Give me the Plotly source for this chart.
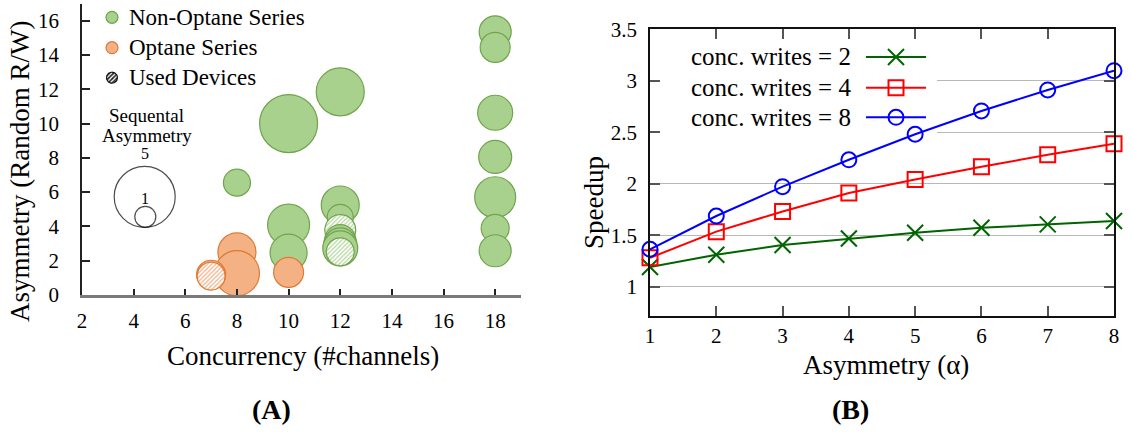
import math
import plotly.graph_objects as go

W, H = 1132, 432
FONT = "Liberation Serif"

# ---- Panel A: device survey -------------------------------------------
# (channels, random R/W asymmetry, sequential asymmetry, used device), listed in drawing order
nonopt_channels = [10, 12, 8, 18, 18, 18, 18, 18, 18, 18, 10, 10, 12, 12, 12, 12, 12, 12, 12]
nonopt_rand_asym = [10.0, 11.85, 6.55, 15.35, 14.44, 10.63, 8.05, 5.70, 3.89, 2.58,
                    4.08, 2.47, 5.25, 4.53, 3.79, 3.2, 2.95, 2.72, 2.52]
nonopt_seq_asym = [4.7, 3.7, 1.6, 2.1, 1.9, 2.4, 2.2, 3.0, 1.7, 2.1,
                   3.1, 2.6, 2.7, 1.5, 2.0, 2.0, 2.2, 2.4, 1.7]
nonopt_used = [False, False, False, False, False, False, False, False, False, False,
               False, False, False, False, True, False, False, False, True]

opt_channels = [10, 8, 8, 7, 7]
opt_rand_asym = [1.32, 2.51, 1.27, 1.18, 1.10]
opt_seq_asym = [1.9, 2.7, 3.4, 1.8, 1.7]
opt_used = [False, False, False, False, True]

size_legend_values = [5, 1]

# ---- Panel B: speedup vs asymmetry --------------------------------------
alpha = [1, 2, 3, 4, 5, 6, 7, 8]
speedup_w2 = [1.19, 1.31, 1.405, 1.467, 1.523, 1.572, 1.605, 1.637]
speedup_w4 = [1.28, 1.534, 1.73, 1.91, 2.04, 2.164, 2.28, 2.387]
speedup_w8 = [1.363, 1.686, 1.971, 2.232, 2.48, 2.706, 2.91, 3.097]
series_labels = ["conc. writes = 2", "conc. writes = 4", "conc. writes = 8"]

GREEN_FILL, GREEN_LINE, GREEN_HATCH = "#a9d18e", "#70a44c", "#b3d69c"
ORANGE_FILL, ORANGE_LINE, ORANGE_HATCH = "#f4b183", "#dd7b35", "#f3b088"

# plot areas in pixels
A_LEFT, A_RIGHT, A_TOP, A_BOTTOM = 82, 521, 3.5, 295
A_XRANGE, A_YRANGE = [2, 19], [0, 17]
B_LEFT, B_RIGHT, B_TOP, B_BOTTOM = 650, 1114, 29.2, 316
B_XRANGE, B_YRANGE = [1, 8], [0.715, 3.5]

A_PX_PER_X = (A_RIGHT - A_LEFT) / (A_XRANGE[1] - A_XRANGE[0])
A_PX_PER_Y = (A_BOTTOM - A_TOP) / (A_YRANGE[1] - A_YRANGE[0])


def bubble_px(v):
    # sequential asymmetry -> marker diameter in pixels
    return 11 + 10 * v


def circle_path(cx, cy, rx, ry, n=64):
    ang = [2 * math.pi * i / n for i in range(n + 1)]
    return [cx + rx * math.cos(a) for a in ang], [cy + ry * math.sin(a) for a in ang]


def bx_data(px):
    return B_XRANGE[0] + (px - B_LEFT) * (B_XRANGE[1] - B_XRANGE[0]) / (B_RIGHT - B_LEFT)


def by_data(py):
    return B_YRANGE[1] - (py - B_TOP) * (B_YRANGE[1] - B_YRANGE[0]) / (B_BOTTOM - B_TOP)


fig = go.Figure()

# bubbles in listed order; used devices get a hatched fill
groups = [
    (nonopt_channels, nonopt_rand_asym, nonopt_seq_asym, nonopt_used, GREEN_FILL, GREEN_HATCH, GREEN_LINE),
    (opt_channels, opt_rand_asym, opt_seq_asym, opt_used, ORANGE_FILL, ORANGE_HATCH, ORANGE_LINE),
]
for xs, ys, ss, us, fill, hatch, line in groups:
    for x, y, s, u in zip(xs, ys, ss, us):
        d = bubble_px(s)
        if u:
            cx, cy = circle_path(x, y, d / 2 / A_PX_PER_X, d / 2 / A_PX_PER_Y)
            fig.add_trace(go.Scatter(
                x=cx, y=cy, mode="lines", fill="toself", xaxis="x", yaxis="y",
                showlegend=False, cliponaxis=False, hoverinfo="skip",
                line=dict(color=line, width=1.2),
                fillpattern=dict(shape="/", fgcolor=hatch, bgcolor="white",
                                 size=3, solidity=0.4, fillmode="replace"),
            ))
        else:
            fig.add_trace(go.Scatter(
                x=[x], y=[y], mode="markers", xaxis="x", yaxis="y", showlegend=False,
                cliponaxis=False,
                marker=dict(size=d, color=fill, opacity=1, line=dict(color=line, width=1.2)),
            ))

# ---- Panel B ------------------------------------------------------------
# opaque box behind the key (covers the grid, stays under the curves)
kx0, kx1 = bx_data(B_LEFT + 1), bx_data(937)
ky0, ky1 = by_data(137), by_data(B_TOP + 1)
fig.add_trace(go.Scatter(
    x=[kx0, kx1, kx1, kx0, kx0], y=[ky0, ky0, ky1, ky1, ky0], mode="lines",
    fill="toself", fillcolor="white", line=dict(width=0, color="white"),
    xaxis="x2", yaxis="y2", showlegend=False, hoverinfo="skip",
))

styles = [
    (speedup_w2, "#006400", "x-thin-open", 16),
    (speedup_w4, "#ff0000", "square-open", 15),
    (speedup_w8, "#0000ff", "circle-open", 15),
]
for vals, col, sym, sz in styles:
    fig.add_trace(go.Scatter(
        x=alpha, y=vals, mode="lines+markers", xaxis="x2", yaxis="y2", showlegend=False,
        cliponaxis=False,
        line=dict(color=col, width=2),
        marker=dict(symbol=sym, size=sz, color=col, line=dict(color=col, width=2)),
    ))

# ---- keys drawn on a pixel-space overlay ---------------------------------
key_y = [17.3, 47.7, 77.7]
fig.add_trace(go.Scatter(
    x=[112, 112], y=key_y[:2], mode="markers", xaxis="x3", yaxis="y3", showlegend=False,
    marker=dict(size=12, color=[GREEN_FILL, ORANGE_FILL],
                line=dict(color=[GREEN_LINE, ORANGE_LINE], width=1.2)),
))
hx, hy = circle_path(112, key_y[2], 5.5, 5.5)
fig.add_trace(go.Scatter(
    x=hx, y=hy, mode="lines", fill="toself", xaxis="x3", yaxis="y3", showlegend=False,
    hoverinfo="skip", line=dict(color="#111", width=1.2),
    fillpattern=dict(shape="/", fgcolor="#222", bgcolor="white", size=3, solidity=0.55,
                     fillmode="replace"),
))
# bubble size key
fig.add_trace(go.Scatter(
    x=[144.7, 145.3], y=[227.3 - bubble_px(v) / 2 for v in size_legend_values],
    mode="markers", xaxis="x3", yaxis="y3", showlegend=False,
    marker=dict(symbol="circle-open", size=[bubble_px(v) for v in size_legend_values],
                color="black", line=dict(color="black", width=1.2)),
))
# right key samples
row_y = [57, 87.7, 117.3]
for (vals, col, sym, sz), ry in zip(styles, row_y):
    fig.add_trace(go.Scatter(
        x=[866, 926], y=[ry, ry], mode="lines", xaxis="x3", yaxis="y3", showlegend=False,
        line=dict(color=col, width=2),
    ))
    fig.add_trace(go.Scatter(
        x=[896], y=[ry], mode="markers", xaxis="x3", yaxis="y3", showlegend=False,
        marker=dict(symbol=sym, size=sz, color=col, line=dict(color=col, width=2)),
    ))

annotations = []


def text(x, y, s, size, anchor="center", angle=0, bold=False):
    annotations.append(dict(
        x=x / W, y=1 - y / H, xref="paper", yref="paper", text=f"<b>{s}</b>" if bold else s,
        showarrow=False, xanchor=anchor, yanchor="middle", textangle=angle,
        font=dict(family=FONT, size=size, color="black"),
    ))


text(127, 17.3, "Non-Optane Series", 23, "left")
text(127, 47.7, "Optane Series", 23, "left")
text(127, 77.7, "Used Devices", 23, "left")
text(146.5, 115, "Sequental", 19)
text(146.5, 135, "Asymmetry", 19)
for v, yy in zip(size_legend_values, [154, 198.3]):
    text(144.8, yy, str(v), 16)
for lab, ry in zip(series_labels, row_y):
    text(853, ry, lab, 25, "right")

text(20, 172, "Asymmetry (Random R/W)", 27, angle=-90)
text(303, 356, "Concurrency (#channels)", 27)
text(594, 203, "Speedup", 27, angle=-90)
text(886, 365, "Asymmetry (α)", 27)
text(271, 409, "(A)", 28, bold=True)
text(850, 409, "(B)", 28, bold=True)

tickfont = dict(family=FONT, size=21, color="black")

fig.update_layout(
    template="none",
    width=W, height=H, autosize=False,
    margin=dict(l=0, r=0, t=0, b=0, pad=0, autoexpand=False),
    paper_bgcolor="white", plot_bgcolor="rgba(0,0,0,0)",
    font=dict(family=FONT, color="black"),
    showlegend=False,
    annotations=annotations,
    xaxis=dict(
        domain=[A_LEFT / W, A_RIGHT / W], range=A_XRANGE, anchor="y", automargin=False,
        showline=True, linecolor="#7a7a7a", linewidth=2.5,
        ticks="inside", ticklen=6, tickwidth=1.5, tickcolor="#222",
        tickvals=list(range(2, 19, 2)), showgrid=False, zeroline=False,
        tickfont=tickfont, ticklabelstandoff=5,
    ),
    yaxis=dict(
        domain=[1 - A_BOTTOM / H, 1 - A_TOP / H], range=A_YRANGE, anchor="x", automargin=False,
        showline=True, linecolor="#222", linewidth=1.5,
        ticks="inside", ticklen=8, tickwidth=1.5, tickcolor="#222",
        tickvals=list(range(0, 17, 2)), showgrid=False, zeroline=False,
        tickfont=tickfont, ticklabelstandoff=17,
    ),
    xaxis2=dict(
        domain=[B_LEFT / W, B_RIGHT / W], range=B_XRANGE, anchor="y2", automargin=False,
        showline=True, mirror="ticks", linecolor="#111", linewidth=1.5,
        ticks="inside", ticklen=10, tickwidth=1.5, tickcolor="#555",
        tickvals=alpha, showgrid=False, zeroline=False,
        tickfont=tickfont, ticklabelstandoff=0,
    ),
    yaxis2=dict(
        domain=[1 - B_BOTTOM / H, 1 - B_TOP / H], range=B_YRANGE, anchor="x2", automargin=False,
        showline=True, mirror="ticks", linecolor="#111", linewidth=1.5,
        ticks="inside", ticklen=10, tickwidth=1.5, tickcolor="#555",
        tickvals=[1, 1.5, 2, 2.5, 3, 3.5], ticktext=["1", "1.5", "2", "2.5", "3", "3.5"],
        showgrid=True, gridcolor="#b8b8b8", gridwidth=1.2, zeroline=False,
        tickfont=tickfont, ticklabelstandoff=7,
    ),
    xaxis3=dict(domain=[0, 1], range=[0, W], anchor="y3", visible=False, fixedrange=True,
                automargin=False),
    yaxis3=dict(domain=[0, 1], range=[H, 0], anchor="x3", visible=False, fixedrange=True,
                automargin=False),
)

fig.write_html("out.html")
